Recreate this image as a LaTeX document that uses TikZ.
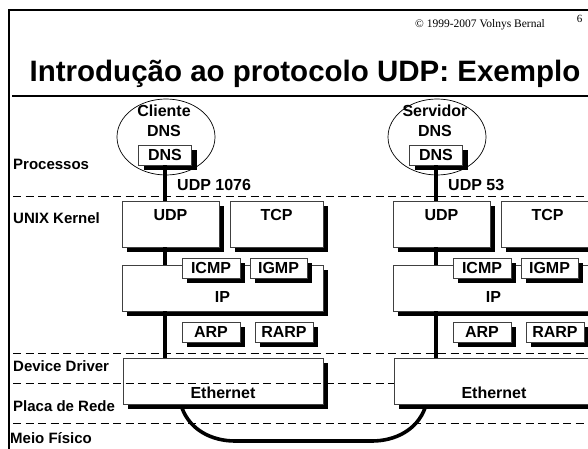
\documentclass[tikz,border=0pt]{standalone}
\usepackage{fontspec}
\setmainfont{Liberation Sans}
\newfontfamily\crserif{Liberation Serif}
\usetikzlibrary{shapes.geometric,shadows}
\tikzset{%
    tierlbl/.style={font=\bfseries\fontsize{15}{17}\selectfont,anchor=base west,inner sep=0pt},
    txt/.style={font=\bfseries\fontsize{16}{18}\selectfont,anchor=base,inner sep=0pt},
    block/.style={inner sep=0pt,outer sep=0pt,shape=rectangle,draw=black!75,fill=white,line width=0.8pt,
        font=\bfseries\fontsize{16}{18}\selectfont,
        drop shadow={shadow xshift=5pt,shadow yshift=-5pt,fill=black,opacity=1}},
    small/.style={block,minimum width=58pt,minimum height=20pt},
    proc/.style={inner sep=0pt,outer sep=0pt,shape=ellipse,draw,line width=0.7pt,minimum width=98pt,minimum height=76pt},
    link/.style={line width=4pt},
    sep line/.style={line width=0.8pt,dash pattern=on 8pt off 4.5pt},
    cable/.style={line width=3.6pt},
}
\begin{document}
\begin{tikzpicture}[x=1pt,y=-1pt]
    \useasboundingbox (0,0) rectangle (588,449);
    \clip (0,0) rectangle (588,449);

    % moldura e titulo
    \draw[line width=2.2pt] (588,10) -- (9,10) -- (9,449);
    \node[font=\crserif\fontsize{11.5}{13}\selectfont,anchor=base east,inner sep=0pt] (copy) at (545,28) {© 1999-2007 Volnys Bernal};
    \node[font=\crserif\fontsize{11}{13}\selectfont,anchor=base,inner sep=0pt] (pagenum) at (579.5,23) {6};
    \node[font=\bfseries\fontsize{29.5}{32}\selectfont,anchor=base,inner sep=0pt] (title) at (305,82) {Introdução ao protocolo UDP: Exemplo};
    \draw[line width=2.3pt] (12,96) -- (588,96);

    % ethernet do cliente fica por baixo das linhas tracejadas
    \node[block,minimum width=200pt,minimum height=46pt] (ethA) at (223,381) {};

    % camadas
    \foreach \y in {196,353,383,423}
        \draw[sep line] (13,\y) -- (588,\y);
    \node[tierlbl] (lproc) at (13,169) {Processos};
    \node[tierlbl] (lkern) at (13,223) {UNIX Kernel};
    \node[tierlbl] (ldrv) at (13,371) {Device Driver};
    \node[tierlbl] (lcard) at (13,411) {Placa de Rede};
    \node[tierlbl] (lmeio) at (10,443) {Meio Físico};

    % cliente
    \node[proc] (cliA) at (166,137) {};
    \node[txt] (cliAname) at (164,117) {Cliente};
    \node[txt] (cliAdns) at (164,137) {DNS};
    \node[block,minimum width=53pt,minimum height=20pt] (dnsA) at (165,155) {DNS};
    \node[txt,anchor=base west] (portA) at (177,190) {UDP 1076};
    \node[block,minimum width=97pt,minimum height=46pt] (udpA) at (170.5,224) {};
    \node[txt] (udpAt) at ([yshift=-19pt]udpA.north) {UDP};
    \node[block,minimum width=93pt,minimum height=46pt] (tcpA) at (276.5,224) {};
    \node[txt] (tcpAt) at ([yshift=-19pt]tcpA.north) {TCP};
    \node[block,minimum width=201pt,minimum height=46pt] (ipA) at (222.5,288) {};
    \node[txt] (ipAt) at ([yshift=9pt]ipA.south) {IP};
    \node[small] (icmpA) at (211,268) {ICMP};
    \node[small,minimum width=57pt] (igmpA) at (278.5,268) {IGMP};
    \node[small] (arpA) at (211,332) {ARP};
    \node[small] (rarpA) at (284,332) {RARP};
    \node[txt] (ethAt) at ([yshift=6pt]ethA.south) {Ethernet};
    \draw[link] (dnsA.south) -- (dnsA.south |- udpA.north);
    \draw[link] (dnsA.south |- udpA.south) -- (dnsA.south |- ipA.north);
    \draw[link] (dnsA.south |- ipA.south) -- (dnsA.south |- ethA.north);

    % servidor
    \begin{scope}[xshift=271pt]
        \node[proc] (cliB) at (166,137) {};
        \node[txt] (cliBname) at (164,117) {Servidor};
        \node[txt] (cliBdns) at (164,137) {DNS};
        \node[block,minimum width=53pt,minimum height=20pt] (dnsB) at (165,155) {DNS};
        \node[txt,anchor=base west] (portB) at (177,190) {UDP 53};
        \node[block,minimum width=97pt,minimum height=46pt] (udpB) at (170.5,224) {};
        \node[txt] (udpBt) at ([yshift=-19pt]udpB.north) {UDP};
        \node[block,minimum width=93pt,minimum height=46pt] (tcpB) at (276.5,224) {};
        \node[txt] (tcpBt) at ([yshift=-19pt]tcpB.north) {TCP};
        \node[block,minimum width=201pt,minimum height=46pt] (ipB) at (222.5,288) {};
        \node[txt] (ipBt) at ([yshift=9pt]ipB.south) {IP};
        \node[small] (icmpB) at (211,268) {ICMP};
        \node[small,minimum width=57pt] (igmpB) at (278.5,268) {IGMP};
        \node[small] (arpB) at (211,332) {ARP};
        \node[small] (rarpB) at (284,332) {RARP};
        \node[block,minimum width=200pt,minimum height=46pt] (ethB) at (223,381) {};
        \node[txt] (ethBt) at ([yshift=6pt]ethB.south) {Ethernet};
        \draw[link] (dnsB.south) -- (dnsB.south |- udpB.north);
        \draw[link] (dnsB.south |- udpB.south) -- (dnsB.south |- ipB.north);
        \draw[link] (dnsB.south |- ipB.south) -- (dnsB.south |- ethB.north);
    \end{scope}

    % cabo
    \coordinate (plugA) at ([shift={(59,4)}]ethA.south west);
    \coordinate (plugB) at ([shift={(31,4)}]ethB.south west);
    \draw[cable] (plugA) .. controls (190,430) and (212,441) .. (235,441) -- (372,441)
        .. controls (395,441) and (417,430) .. (plugB);
\end{tikzpicture}
\end{document}
